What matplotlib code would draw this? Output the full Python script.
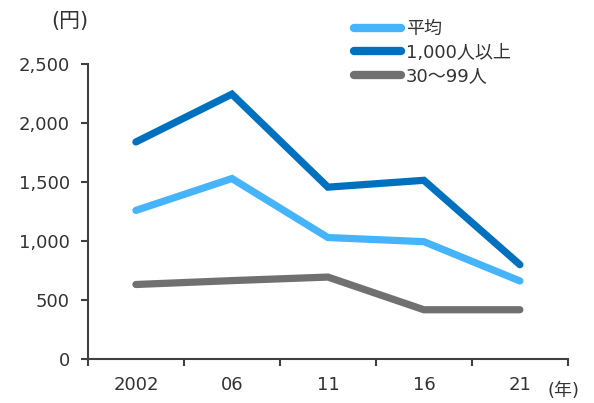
import matplotlib
matplotlib.use("Agg")
import matplotlib.pyplot as plt
from matplotlib.lines import Line2D

plt.rcParams['font.family'] = ['DejaVu Sans', 'Noto Sans CJK JP']

categories = ["2002", "06", "11", "16", "21"]
avg_all = [1260, 1530, 1030, 995, 662]
large_firms = [1840, 2245, 1457, 1515, 800]
small_firms = [632, 665, 695, 418, 418]
series_names = ["平均", "1,000人以上", "30〜99人"]
series_colors = ["#45B4FA", "#0071BF", "#707070"]
y_ticks = [0, 500, 1000, 1500, 2000, 2500]

text_color = "#333333"
axis_color = "#404040"
mixed_family = ['DejaVu Sans', 'Noto Sans CJK JP']

fig = plt.figure(figsize=(5.94, 4.03), dpi=100)
ax = fig.add_axes([0.148, 0.109, 0.808, 0.732])

x = list(range(len(categories)))
for vals, name, col in zip([avg_all, large_firms, small_firms], series_names, series_colors):
    ax.plot(x, vals, color=col, lw=5.2, solid_capstyle="round",
            solid_joinstyle="miter", label=name)

ax.set_ylim(0, 2500)
ax.set_xlim(-0.5, len(categories) - 0.5)
ax.set_yticks(y_ticks)
ax.set_yticklabels([f"{v:,}" for v in y_ticks], fontsize=13, color=text_color)

# category boundaries carry tick marks, centers carry labels
ax.set_xticks([i - 0.5 for i in range(len(categories) + 1)])
ax.set_xticklabels([])
ax.set_xticks(x, minor=True)
ax.set_xticklabels(categories, minor=True, fontsize=13, color=text_color)
ax.tick_params(axis="x", which="minor", length=0, pad=12)
ax.tick_params(axis="x", which="major", length=5, width=1.5, color=axis_color, direction="out")
ax.tick_params(axis="y", length=5, width=1.5, color=axis_color, direction="out", pad=8)

for s in ["top", "right"]:
    ax.spines[s].set_visible(False)
for s in ["left", "bottom"]:
    ax.spines[s].set_color(axis_color)
    ax.spines[s].set_linewidth(1.5)

fig.text(0.086, 0.948, "(円)", fontsize=15, color=text_color, ha="left", va="center",
         family=mixed_family)
fig.text(0.921, 0.03, "(年)", fontsize=13, color=text_color, ha="left", va="center",
         family=mixed_family)

handles = [Line2D([0], [0], color=c, lw=6, solid_capstyle="round") for c in series_colors]
leg = fig.legend(handles, series_names, loc="upper left", bbox_to_anchor=(0.568, 0.99),
                 frameon=False, handlelength=2.6, handletextpad=0.3, labelspacing=0.3,
                 prop={"family": mixed_family, "size": 13})
for t in leg.get_texts():
    t.set_color(text_color)

fig.savefig("out.png", dpi=100)
